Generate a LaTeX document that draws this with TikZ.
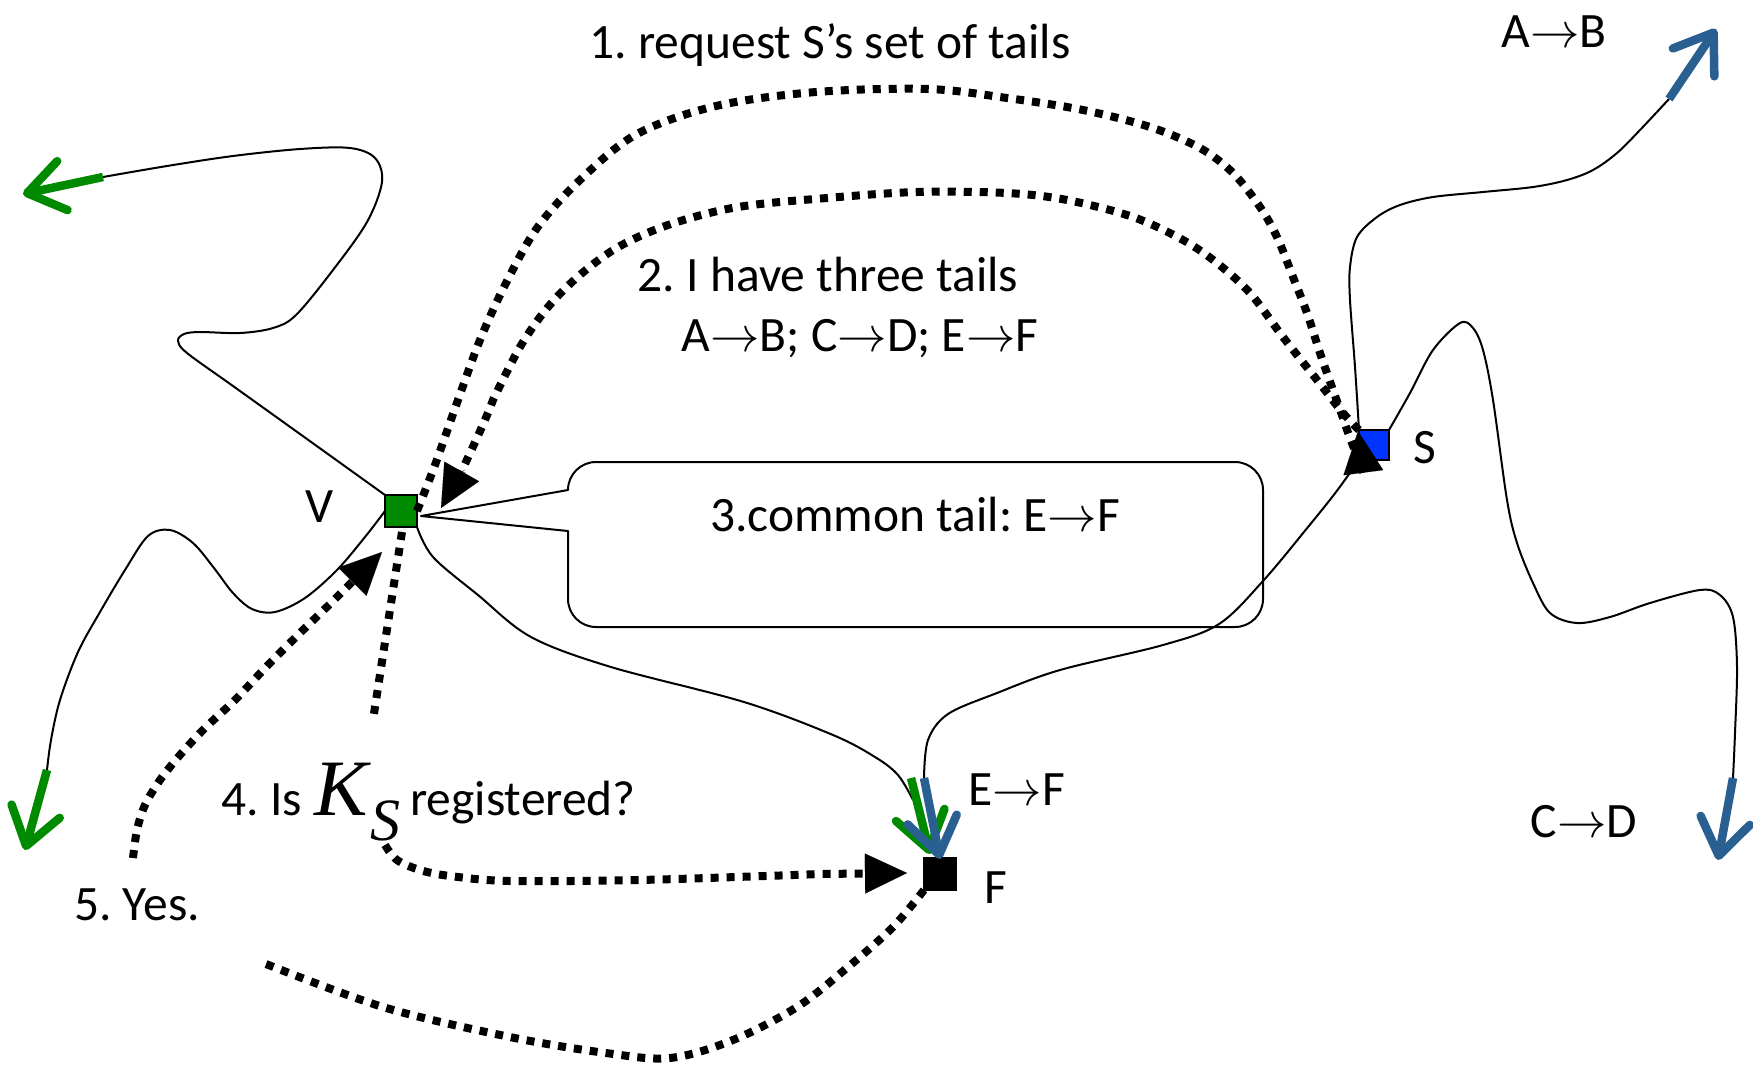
\RequirePackage{fix-cm}
\documentclass[tikz,border=0pt]{standalone}
\usepackage{fontspec}
\setmainfont{Carlito}
\newfontfamily\kfont{Liberation Serif}
\usetikzlibrary{arrows.meta,calc}
\definecolor{tgreen}{RGB}{0,138,0}
\definecolor{tblue}{RGB}{42,95,145}
\definecolor{sblue}{RGB}{0,51,255}
\newcommand{\tailarrow}{\ensuremath{\rightarrow}}
\frenchspacing
\tikzset{
  thinline/.style={line width=2pt, line join=round},
  dotline/.style={line width=8pt, dash pattern=on 8pt off 8pt},
  headtri/.style={-{Triangle[length=42pt,width=40pt,line width=0.1pt]}},
  gtail/.style={line width=8.5pt, draw=tgreen, -{Straight Barb[length=36pt,width=50pt,round]}},
  btail/.style={line width=8.5pt, draw=tblue, -{Straight Barb[length=36pt,width=50pt,round]}},
  lbl/.style={font=\fontsize{49.5}{58}\selectfont, inner sep=0pt, anchor=base},
  sq/.style={draw=black, line width=2pt, minimum size=#1, inner sep=0pt, outer sep=0pt}
}
\begin{document}
\begin{tikzpicture}[x=1pt,y=-1pt]
\useasboundingbox (0,0) rectangle (1753,1072);

% nodes
\node[sq=32pt, fill=tgreen] (V) at (401,511) {};
\node[sq=30pt, fill=sblue] (S) at (1374,445) {};
\node[sq=32pt, fill=black] (F) at (940,874) {};

% tail coordinates
\coordinate (gA0) at (103,177);   \coordinate (gA) at (23,194);
\coordinate (gB0) at (47,770);    \coordinate (gB) at (25,850);
\coordinate (gCe) at (913,800);
\coordinate (gC0) at (911,778);   \coordinate (gC) at (930,854);
\coordinate (bD0) at (924,778);   \coordinate (bD) at (940,859);
\coordinate (bE0) at (1669,99);   \coordinate (bE) at (1716,29);
\coordinate (bF0) at (1733,778);  \coordinate (bF) at (1718,860);

% thin wavy tails
\draw[thinline] plot[smooth, tension=0.55] coordinates {(V.north west) (300,434) (233,386) (187,353) (178,341) (184,334) (200,332) (240,333) (273,328) (296,315) (333,270) (367,222) (382,182) (375,158) (350,148) (300,149) (233,156) (167,166) (gA0)};
\draw[gtail] (gA0) -- (gA);

\draw[thinline] plot[smooth, tension=0.55] coordinates {(V.west) (365,537) (337,570) (305,598) (275,612) (252,609) (233,593) (214,568) (193,543) (170,530) (148,536) (125,570) (100,612) (78,652) (60,700) (51,740) (gB0)};
\draw[gtail] (gB0) -- (gB);

\draw[thinline] plot[smooth, tension=0.55] coordinates {(V.south east) (433,557) (478,595) (531,637) (611,667) (744,702) (833,735) (875,757) (898,775) (gCe)};
\draw[gtail] (gC0) -- (gC);

\draw[thinline] plot[smooth, tension=0.55] coordinates {(S.south west) (1336,492) (1308,527) (1263,581) (1219,624) (1163,645) (1060,670) (997,693) (948,714) (928,740) (bD0)};
\draw[btail] (bD0) -- (bD);

\draw[thinline] plot[smooth, tension=0.55] coordinates {(S.north west) (1355,367) (1350,300) (1350,267) (1357,237) (1377,217) (1400,205) (1433,197) (1483,192) (1533,187) (1567,180) (1593,170) (1617,153) (1640,130) (bE0)};
\draw[btail] (bE0) -- (bE);

\draw[thinline] plot[smooth, tension=0.55] coordinates {(S.north east) (1410,393) (1433,350) (1460,323) (1473,328) (1483,350) (1493,400) (1507,500) (1517,543) (1533,583) (1550,613) (1577,623) (1610,617) (1650,603) (1700,590) (1720,595) (1733,617) (1737,667) (1735,733) (bF0)};
\draw[btail] (bF0) -- (bF);

% callout
\coordinate (ctip) at ($(V.east)+(4,5)$);
\draw[thinline] (568,531) -- (ctip) -- (568,490)
  arc[start angle=180, end angle=270, radius=28] -- (1235,462)
  arc[start angle=270, end angle=360, radius=28] -- (1263,599)
  arc[start angle=0, end angle=90, radius=28] -- (596,627)
  arc[start angle=90, end angle=180, radius=28] -- cycle;

% dotted messages
\coordinate (reqtip) at (1358,431);
\draw[dotline, headtri] plot[smooth, tension=0.55] coordinates {(V.east) (435,465) (458,400) (480,340) (505,285) (537,228) (581,179) (637,134) (716,106) (816,92) (928,89) (1007,98) (1083,110) (1150,127) (1200,148) (1233,173) (1260,207) (1277,237) (1293,277) (1307,313) (1320,353) (1333,390) (1343,418)}
  .. controls (1350,440) and (1363,470) .. (reqtip);

\coordinate (reptip) at ($(V.east)+(24,-3)$);
\draw[dotline, headtri] plot[smooth, tension=0.55] coordinates {(S.north west) (1343,413) (1317,380) (1283,337) (1250,293) (1217,263) (1183,240) (1133,217) (1067,200) (1007,193) (917,192) (827,198) (738,207) (671,224) (620,246) (581,274) (548,307) (520,347) (493,400)}
  .. controls (484,425) and (458,478) .. (reptip);

\coordinate (k1) at (373,720);
\coordinate (k2) at (385,845);
\coordinate (ftip) at ($(F.west)+(-17,-1)$);
\draw[dotline] ($(V.south)+(1,5)$) -- (k1);
\draw[dotline, headtri] plot[smooth, tension=0.55] coordinates {(k2) (397,860) (420,870) (450,876) (510,881) (638,880) (765,876) (820,874)} -- (ftip);

\coordinate (y1) at (261,962);
\coordinate (y2) at (133,858);
\coordinate (vtip) at ($(V.south)+(-19,25)$);
\draw[dotline] plot[smooth, tension=0.55] coordinates {(F.south west) (893,927) (848,967) (797,1007) (733,1040) (670,1058) (606,1053) (510,1037) (383,1007) (y1)};
\draw[dotline, headtri] plot[smooth, tension=0.55] coordinates {(y2) (137,830) (145,805) (160,780) (180,755) (205,728) (235,700) (268,665) (300,633) (330,604)} -- (vtip);

% labels
\node[lbl] (t1) at (830,58) {1. request S’s set of tails};
\node[lbl] (t2) at (828,291) {2. I have three tails};
\node[lbl] (t3) at (860,351) {A\tailarrow B; C\tailarrow D; E\tailarrow F};
\node[lbl] (t4) at (915,531) {3.common tail: E\tailarrow F};
\node[lbl] (tEF) at (1017,805) {E\tailarrow F};
\node[lbl] (tF) at (996,903) {F};
\node[lbl] (tS) at (1425,463) {S};
\node[lbl] (tV) at (320,522) {V};
\node[lbl] (tAB) at (1554,47) {A\tailarrow B};
\node[lbl] (tCD) at (1584,837) {C\tailarrow D};
\node[lbl] (tYes) at (137,920) {5. Yes.};
\node[lbl] (t4a) at (262,815) {4. Is};
\node[lbl, font=\kfont\itshape\fontsize{80}{80}\selectfont] (tK) at (341,815) {K};
\node[lbl, font=\kfont\itshape\fontsize{60}{60}\selectfont] (tKS) at (385,840) {S};
\node[lbl] (t4b) at (523,815) {registered?};
\end{tikzpicture}
\end{document}
